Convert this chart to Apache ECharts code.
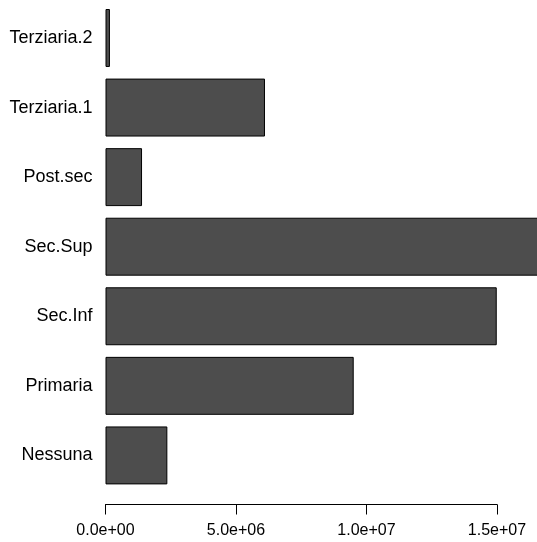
<!DOCTYPE html>
<html>
<head>
<meta charset="utf-8">
<script src="https://cdn.jsdelivr.net/npm/echarts@6/dist/echarts.min.js"></script>
<style>
  html, body { margin: 0; padding: 0; background: #ffffff; }
  #chart { width: 537px; height: 542px; }
</style>
</head>
<body>
<div id="chart"></div>
<script>
// Education levels, bottom to top
const categories = ['Nessuna', 'Primaria', 'Sec.Inf', 'Sec.Sup', 'Post.sec', 'Terziaria.1', 'Terziaria.2'];
const values = [2370000, 9510000, 14990000, 17200000, 1400000, 6110000, 170000];
const tickValues = [0, 5000000, 10000000, 15000000];

const chartWidth = 537;
const pxPerUnit = 26.1 / 1e6;   // horizontal scale shared by both grids
const plotLeft = 105.5;
// the bar panel fills to the right edge; the longest bar runs off it
const barMax = (chartWidth - plotLeft) / pxPerUnit;
const axisMax = tickValues[tickValues.length - 1];

const chart = echarts.init(document.getElementById('chart'), null, { renderer: 'canvas' });

const font = 'Liberation Sans, Arial, Helvetica, sans-serif';

chart.setOption({
  animation: false,
  backgroundColor: '#ffffff',
  grid: [
    {
      left: plotLeft,
      right: 0,
      top: 3.2,
      height: 487,
      containLabel: false
    },
    {
      left: plotLeft,
      width: axisMax * pxPerUnit,
      top: 504.5,
      height: 0,
      containLabel: false
    }
  ],
  xAxis: [
    {
      gridIndex: 0,
      type: 'value',
      min: 0,
      max: barMax,
      show: false
    },
    {
      gridIndex: 1,
      type: 'value',
      min: 0,
      max: axisMax,
      interval: 5000000,
      position: 'bottom',
      axisLine: { show: true, lineStyle: { color: '#000000', width: 1 } },
      axisTick: { show: true, inside: false, length: 10, lineStyle: { color: '#000000', width: 1 } },
      splitLine: { show: false },
      axisLabel: {
        show: true,
        margin: 18,
        color: '#000000',
        fontFamily: font,
        fontSize: 16,
        formatter: function (v) {
          if (v === 0) return '0.0e+00';
          const e = Math.floor(Math.log10(v));
          const m = v / Math.pow(10, e);
          return m.toFixed(1) + 'e+' + String(e).padStart(2, '0');
        }
      }
    }
  ],
  yAxis: [
    {
      gridIndex: 0,
      type: 'category',
      data: categories,
      axisLine: { show: false },
      axisTick: { show: false },
      axisLabel: {
        show: true,
        margin: 13,
        color: '#000000',
        fontFamily: font,
        fontSize: 18
      }
    },
    {
      gridIndex: 1,
      type: 'value',
      show: false
    }
  ],
  series: [
    {
      type: 'bar',
      xAxisIndex: 0,
      yAxisIndex: 0,
      data: values,
      barCategoryGap: '16.7%',
      clip: false,
      itemStyle: {
        color: '#4d4d4d',
        borderColor: '#000000',
        borderWidth: 1
      },
      emphasis: { disabled: true }
    }
  ]
});
</script>
</body>
</html>
